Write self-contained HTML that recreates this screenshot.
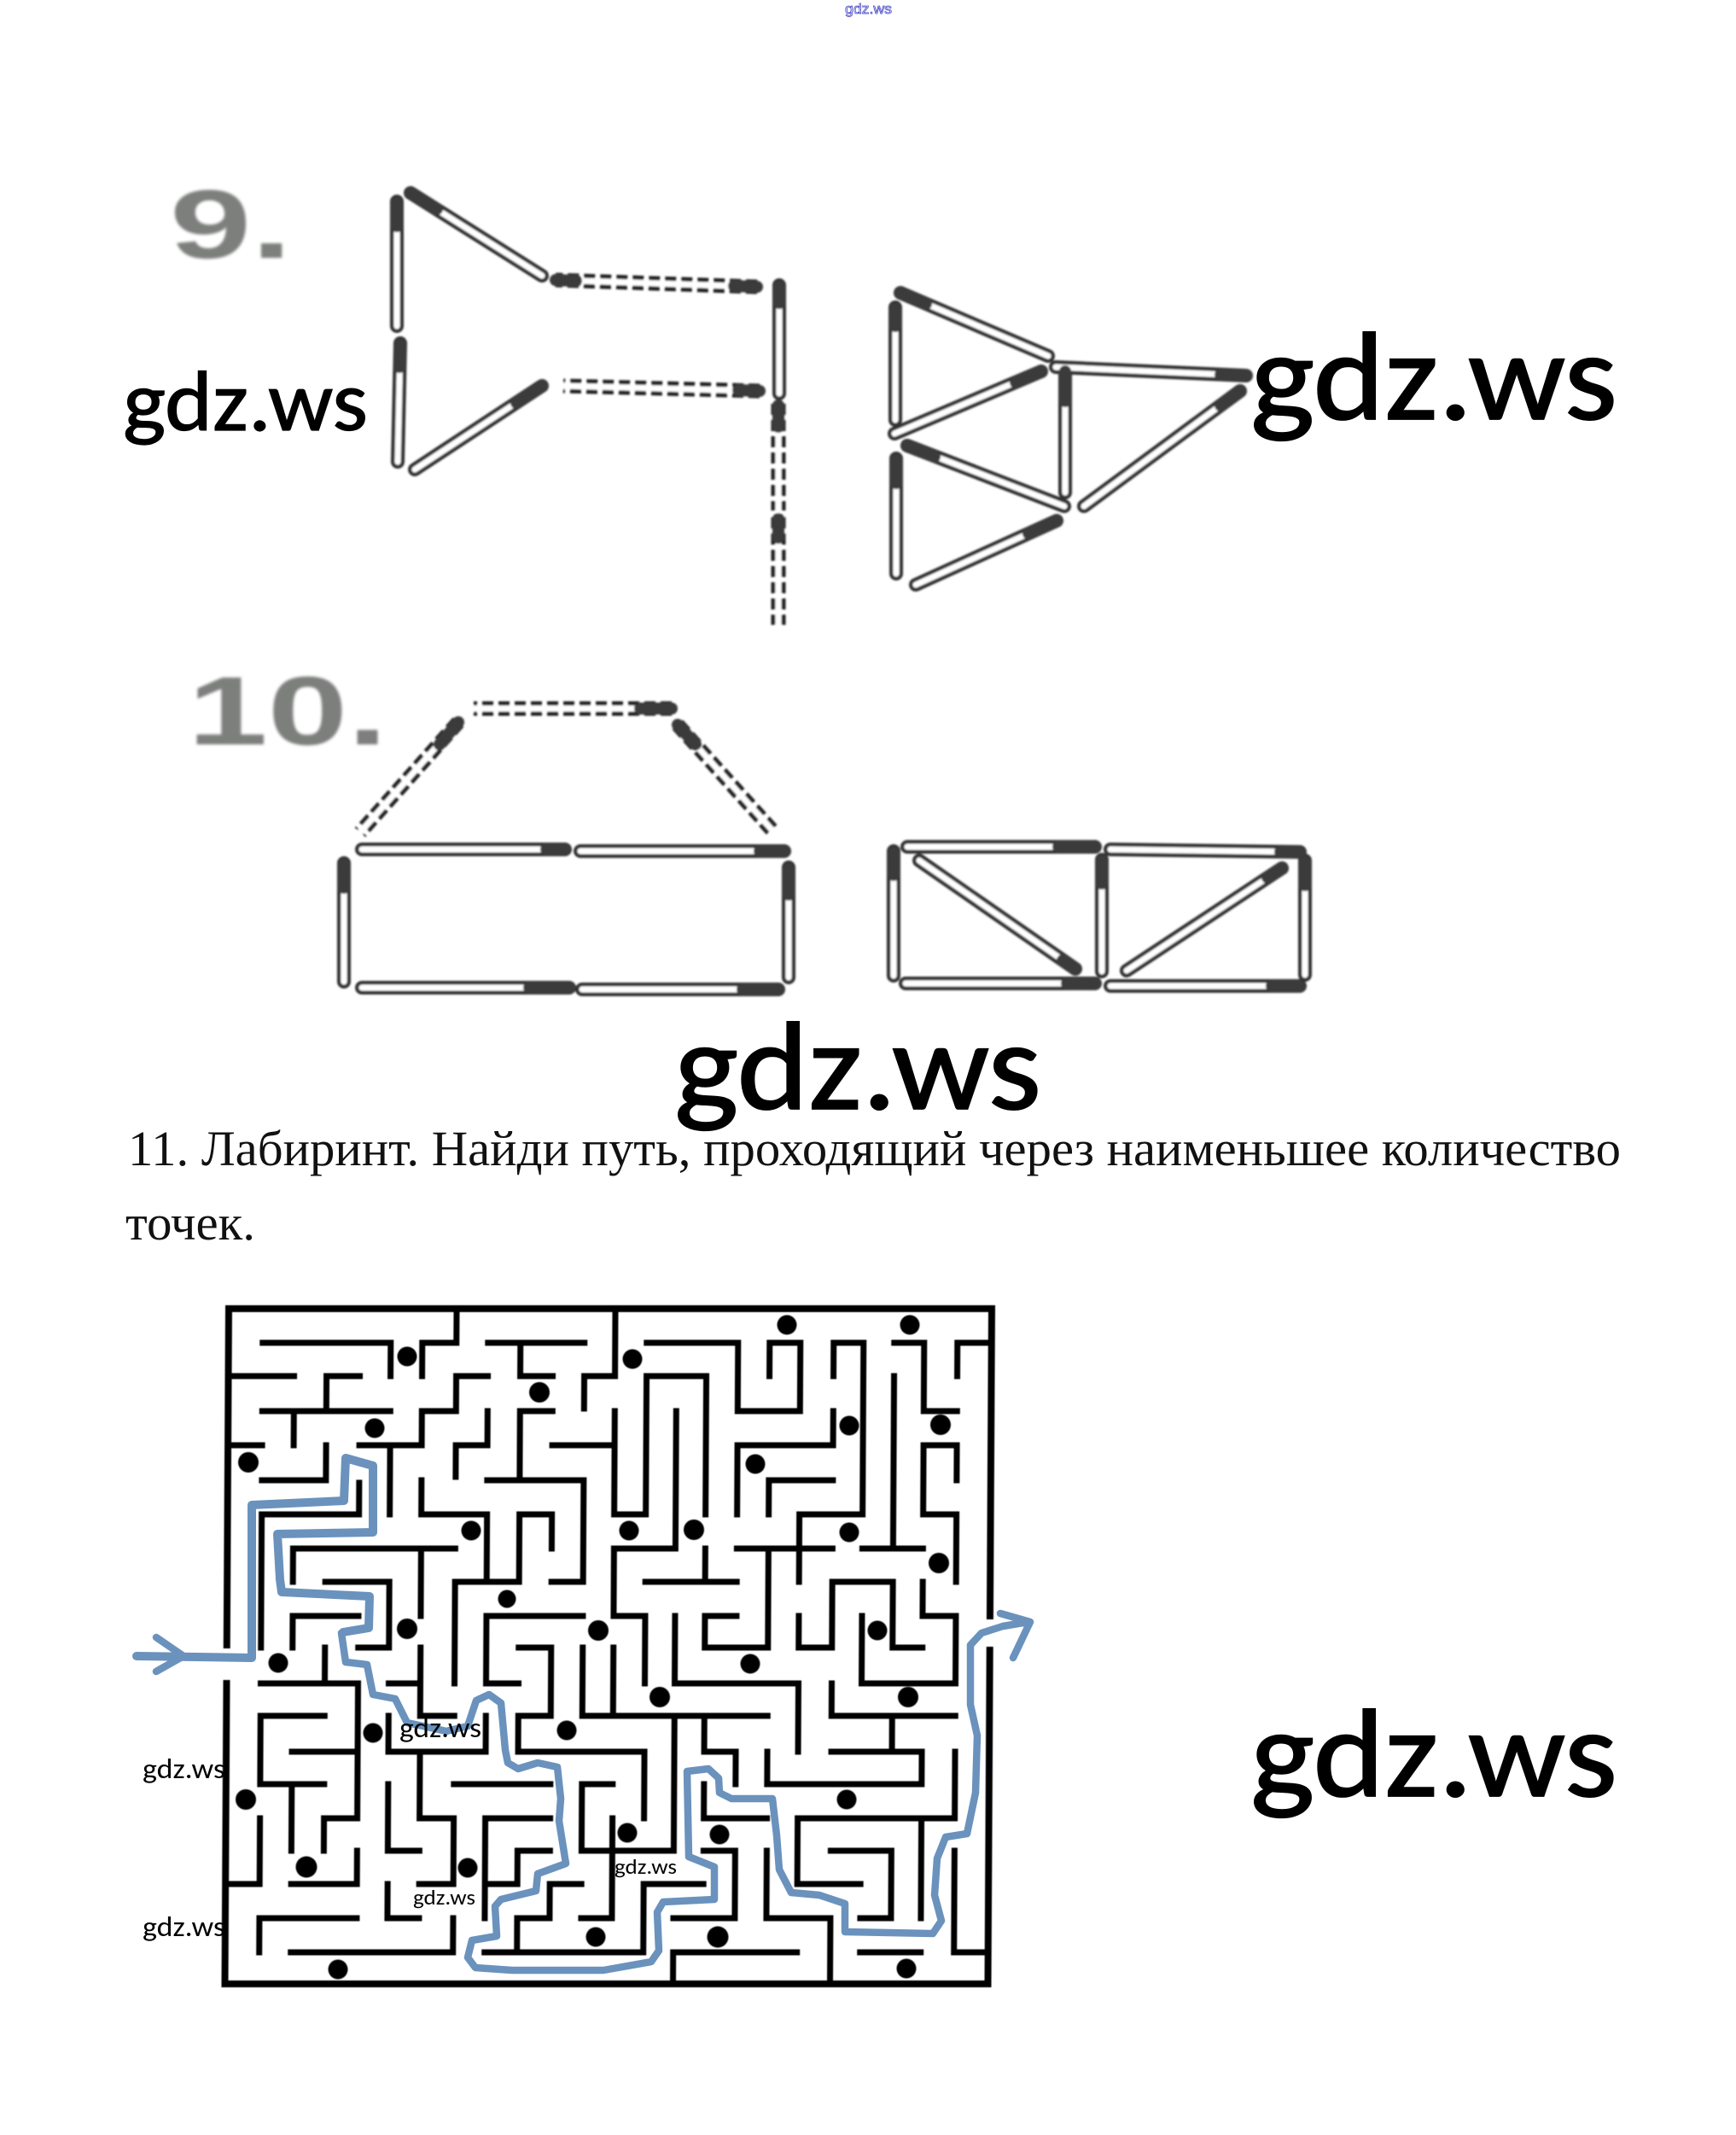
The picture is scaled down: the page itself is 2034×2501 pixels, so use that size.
<!DOCTYPE html>
<html lang="ru">
<head>
<meta charset="utf-8">
<title>gdz.ws</title>
<style>
html,body{margin:0;padding:0;background:#fff;width:2034px;height:2501px;overflow:hidden}
svg{display:block}
.wm{font-family:"Carlito","Liberation Sans",sans-serif;fill:#000;stroke:#000}
</style>
</head>
<body>
<svg xmlns="http://www.w3.org/2000/svg" width="2034" height="2501" viewBox="0 0 2034 2501">
<defs>
<filter id="b1" x="-5%" y="-5%" width="110%" height="110%"><feGaussianBlur stdDeviation="1.1"/></filter>
<filter id="b2" x="-5%" y="-5%" width="110%" height="110%"><feGaussianBlur stdDeviation="1.6"/></filter>
<filter id="b3" x="-5%" y="-5%" width="110%" height="110%"><feGaussianBlur stdDeviation=".6"/></filter>
</defs>
<rect width="2034" height="2501" fill="#fff"/>

<text x="990" y="16" font-family="Liberation Sans,sans-serif" font-size="17" fill="#fff" stroke="#4a4ac8" stroke-width=".8" textLength="55" lengthAdjust="spacingAndGlyphs">gdz.ws</text>

<g filter="url(#b2)" font-family="Liberation Sans,sans-serif" font-weight="bold" fill="#7d7f7d">
<text x="199" y="302" font-size="114" textLength="143" lengthAdjust="spacingAndGlyphs">9.</text>
<text x="220" y="872" font-size="114" textLength="234" lengthAdjust="spacingAndGlyphs">10.</text>
</g>

<g filter="url(#b1)" fill="none" stroke-linecap="round">
<path stroke="#333" stroke-width="16" d="M465 236L465 382M469 402L466 541M481 226L635 323M635 452L486 550M913 334L913 461M1049 360L1049 492M1055 343L1228 417M1220 435L1048 508M1063 522L1247 593M1050 537L1050 672M1238 610L1073 685M1248 433L1248 577M1460 440L1237 430M1453 458L1270 593M662 995L424 995M919 997L680 997M403 1011L403 1150M924 1016L924 1145M667 1157L424 1157M912 1159L682 1159M1047 997L1047 1143M1283 992L1063 992M1260 1135L1077 1008M1291 1007L1291 1138M1523 998L1301 995M1502 1017L1320 1137M1529 1008L1529 1142M1283 1152L1061 1152M1523 1155L1301 1155"/>
<path stroke="#222" stroke-width="17" stroke-linecap="butt" stroke-dasharray="13 6" d="M887 336L651 328M890 458L660 452M912 473L912 598M912 606L912 732M787 830L555 830M537 846L422 975M794 849L907 975"/>
<path stroke="#fff" stroke-width="7" d="M465 236L465 382M469 402L466 541M481 226L635 323M635 452L486 550M913 334L913 461M1049 360L1049 492M1055 343L1228 417M1220 435L1048 508M1063 522L1247 593M1050 537L1050 672M1238 610L1073 685M1248 433L1248 577M1460 440L1237 430M1453 458L1270 593M662 995L424 995M919 997L680 997M403 1011L403 1150M924 1016L924 1145M667 1157L424 1157M912 1159L682 1159M1047 997L1047 1143M1283 992L1063 992M1260 1135L1077 1008M1291 1007L1291 1138M1523 998L1301 995M1502 1017L1320 1137M1529 1008L1529 1142M1283 1152L1061 1152M1523 1155L1301 1155M887 336L651 328M890 458L660 452M912 473L912 598M912 606L912 732M787 830L555 830M537 846L422 975M794 849L907 975"/>
<path stroke="#3a3a3a" stroke-width="14" d="M465 238L465 265M469 404L468 430M481 226L512 245M635 452L605 472M913 336L913 355M1049 362L1049 382M1055 343L1085 356M1220 435L1190 448M1063 522L1095 535M1050 539L1050 566M1238 610L1205 625M1248 435L1248 470M1460 440L1430 439M1453 458L1430 475M662 995L640 995M919 997L890 997M403 1013L403 1040M924 1018L924 1048M667 1157L620 1157M912 1159L870 1159M1047 999L1047 1025M1283 992L1240 992M1260 1135L1245 1125M1291 1009L1291 1035M1523 998L1500 998M1502 1017L1485 1028M1529 1010L1529 1037M1283 1152L1250 1152M1523 1155L1490 1155M887 336L860 335M651 328L675 329M890 458L865 457M912 475L912 500M912 608L912 630M787 830L750 830M537 846L515 872M794 849L815 872"/>
</g>

<g font-family="Liberation Serif,serif" font-size="58" fill="#111">
<text x="150" y="1365" textLength="1749" lengthAdjust="spacingAndGlyphs">11. Лабиринт. Найди путь, проходящий через наименьшее количество</text>
<text x="147" y="1452" textLength="152" lengthAdjust="spacingAndGlyphs">точек.</text>
</g>

<g filter="url(#b3)">
<g transform="matrix(1 0 -.0057 1 8.74 0)">
<path fill="none" stroke="#000" stroke-width="8" stroke-linecap="square" d="M268 1533H1162M1162 1533V1893M1162 1933V2324M268 2324H1162M268 1533V1927M268 1972V2324"/>
<path fill="none" stroke="#000" stroke-width="7" stroke-linecap="square" d="M535 1533V1573M495 1573H535M495 1573V1612M308 1573H458M458 1573V1612M268 1612H345M383 1612H422M383 1612V1653M308 1653H458M345 1653V1693M268 1693H308M422 1693H495M495 1653V1693M495 1653H535M535 1612V1653M535 1612H572M458 1693V1774M383 1693V1734M308 1734H383M422 1737V1774M308 1774H422M308 1774V1930M495 1734V1774M495 1774H572M572 1774V1853M345 1814H535M345 1814V1853M495 1814V1893M383 1853H458M458 1853V1930M422 1930H458M345 1893H422M345 1893V1930M535 1853H610M535 1853V1972M610 1774V1853M610 1774H648M648 1774V1814M572 1734H685M610 1653V1734M610 1653H648M610 1573V1612M572 1573H685M610 1612H648M572 1653V1693M535 1693H572M535 1693V1730M685 1734V1853M648 1853H685M721 1533V1612M685 1612H721M685 1612V1650M721 1653V1774M648 1693H721M721 1774H758M572 1893H685M572 1893V1972M572 1972H610M758 1612V1774M758 1612H828M828 1612V1774M793 1653V1814M721 1814H793M721 1814V1893M721 1893H758M758 1893V1972M721 1930V2010M685 1930V2010M685 2010H902M758 1573H865M865 1573V1653M865 1653H938M938 1573V1653M902 1573H938M902 1573V1612M977 1573H1012M977 1573V1612M1012 1573V1774M938 1774H1012M938 1774V1853M977 1653V1693M865 1693H977M865 1693V1774M902 1734H977M902 1734V1774M1048 1573H1083M1083 1573V1653M1083 1653H1122M1122 1573H1162M1122 1573V1612M1048 1612V1814M1012 1814H1083M1083 1693H1122M1122 1693V1734M1083 1693V1774M1083 1774H1122M1122 1774V1853M865 1814H977M902 1814V1930M828 1893V1930M828 1893H865M828 1930H902M828 1814V1853M758 1853H865M793 1893V1972M793 1972H938M938 1972V2052M977 1853H1048M977 1853V1930M938 1893V1930M938 1930H977M1048 1853V1930M1048 1930H1083M1012 1893V1972M1012 1972H1122M1122 1893V1972M1083 1893H1122M1083 1853V1893M383 1930V1972M308 1972H422M422 1972V2130M383 2130H422M383 2130V2168M308 2010H383M308 2010V2090M308 2090H383M345 2090V2168M345 2052H422M495 1930V2010M458 1972H495M495 2010H535M458 2010V2052M458 2052H572M572 2010V2052M495 2052V2130M495 2130H535M535 2130V2207M495 2207H535M458 2090V2168M458 2168H495M610 1930H648M648 1930V2010M610 2010H648M610 2010V2052M610 2052H758M758 2052V2130M685 2090H721M685 2090V2168M685 2168H793M793 2010V2168M721 2130V2247M685 2247H721M535 2090H648M572 2130H648M572 2130V2247M610 2168H648M610 2168V2207M572 2207H610M648 2207H685M648 2207V2247M610 2247H648M610 2247V2287M572 2287H758M758 2207V2287M758 2207H828M422 2168V2207M345 2207H422M308 2130V2207M268 2207H308M458 2207V2247M458 2247H495M308 2247H422M308 2247V2287M345 2287H535M535 2247V2287M828 2010V2052M828 2052H865M865 2052V2090M902 2052V2090M902 2090H1083M1083 2052V2090M977 2052H1083M1048 2010V2052M977 2010H1122M977 1972V2010M828 2090V2130M828 2130H902M938 2130H1122M1122 2052V2130M938 2130V2207M938 2207H1012M1083 2130V2247M977 2168H1048M1048 2168V2247M1012 2247H1048M828 2168H865M865 2168V2247M793 2247H865M902 2168V2247M902 2247H977M977 2247V2324M793 2287H938M793 2287V2324M1012 2287H1083M1122 2168V2287M1122 2287H1162"/>
</g>
<g fill="#000">
<circle cx="477" cy="1589" r="11.5"/><circle cx="632" cy="1631" r="12"/><circle cx="439" cy="1673" r="11.5"/><circle cx="291" cy="1713" r="12"/><circle cx="552" cy="1793" r="11.5"/><circle cx="594" cy="1873" r="10.5"/><circle cx="477" cy="1908" r="12"/><circle cx="701" cy="1910" r="12"/><circle cx="741" cy="1592" r="11.5"/><circle cx="922" cy="1552" r="11.5"/><circle cx="1066" cy="1552" r="11.5"/><circle cx="995" cy="1670" r="11.5"/><circle cx="1102" cy="1669" r="12"/><circle cx="885" cy="1715" r="11.5"/><circle cx="737" cy="1793" r="11.5"/><circle cx="813" cy="1792" r="12"/><circle cx="995" cy="1795" r="11.5"/><circle cx="1100" cy="1831" r="12"/><circle cx="1028" cy="1910" r="11.5"/><circle cx="326" cy="1948" r="11.5"/><circle cx="437" cy="2030" r="11.5"/><circle cx="664" cy="2027" r="11.5"/><circle cx="288" cy="2108" r="12"/><circle cx="735" cy="2147" r="11.5"/><circle cx="359" cy="2187" r="12.5"/><circle cx="548" cy="2188" r="11.5"/><circle cx="698" cy="2269" r="11.5"/><circle cx="396" cy="2307" r="11.5"/><circle cx="879" cy="1949" r="11.5"/><circle cx="773" cy="1988" r="12"/><circle cx="1064" cy="1988" r="12"/><circle cx="992" cy="2108" r="11.5"/><circle cx="843" cy="2149" r="11.5"/><circle cx="841" cy="2269" r="12.5"/><circle cx="1062" cy="2306" r="11.5"/>
</g>
</g>

<g fill="none" stroke="#6a92bd" stroke-linejoin="round" stroke-linecap="round">
<path stroke-width="10" d="M160 1940L295 1942V1765M295 1763L403 1758L405 1708L437 1717V1795L325 1797L328 1850L330 1865L433 1870L432 1907L402 1912"/>
<path stroke-width="8.5" d="M402 1912L400 1913L405 1947L430 1950L437 1985L463 1990L477 2018L523 2028L548 2022L558 1992L573 1985L587 1995L592 2050L595 2065L607 2072L630 2065L653 2070L657 2107L655 2133L663 2183L630 2195L628 2215L587 2225L580 2233L582 2268L553 2273L548 2293L557 2305L600 2308L707 2308L763 2298L772 2285L770 2240L777 2228L837 2225L837 2187L807 2175L805 2075L830 2072L842 2083L843 2100L857 2107L905 2107L910 2150L913 2190L927 2217L960 2220L990 2230L990 2263L1093 2265L1103 2250L1095 2220L1098 2177L1108 2152L1133 2148L1143 2100L1145 2033L1137 1997L1137 1927L1150 1913L1175 1905L1205 1900M1172 1890L1207 1900L1187 1942M183 1918L215 1940L183 1958"/>
</g>

<g class="wm" font-size="100" stroke-width="1.2">
<text x="144" y="504" textLength="287" lengthAdjust="spacingAndGlyphs">gdz.ws</text>
</g>
<g class="wm" font-size="147" stroke-width="1.8">
<text x="1465" y="491" textLength="430" lengthAdjust="spacingAndGlyphs">gdz.ws</text>
<text x="790" y="1299" textLength="430" lengthAdjust="spacingAndGlyphs">gdz.ws</text>
<text x="1465" y="2104" textLength="430" lengthAdjust="spacingAndGlyphs">gdz.ws</text>
</g>
<g font-family="Carlito,Liberation Sans,sans-serif" fill="#000">
<text x="468" y="2035" font-size="33" textLength="96" lengthAdjust="spacingAndGlyphs">gdz.ws</text>
<text x="167" y="2083" font-size="33" textLength="97" lengthAdjust="spacingAndGlyphs">gdz.ws</text>
<text x="167" y="2268" font-size="33" textLength="97" lengthAdjust="spacingAndGlyphs">gdz.ws</text>
<text x="484" y="2231" font-size="25" textLength="73" lengthAdjust="spacingAndGlyphs">gdz.ws</text>
<text x="720" y="2195" font-size="25" textLength="73" lengthAdjust="spacingAndGlyphs">gdz.ws</text>
</g>
</svg>
</body>
</html>
